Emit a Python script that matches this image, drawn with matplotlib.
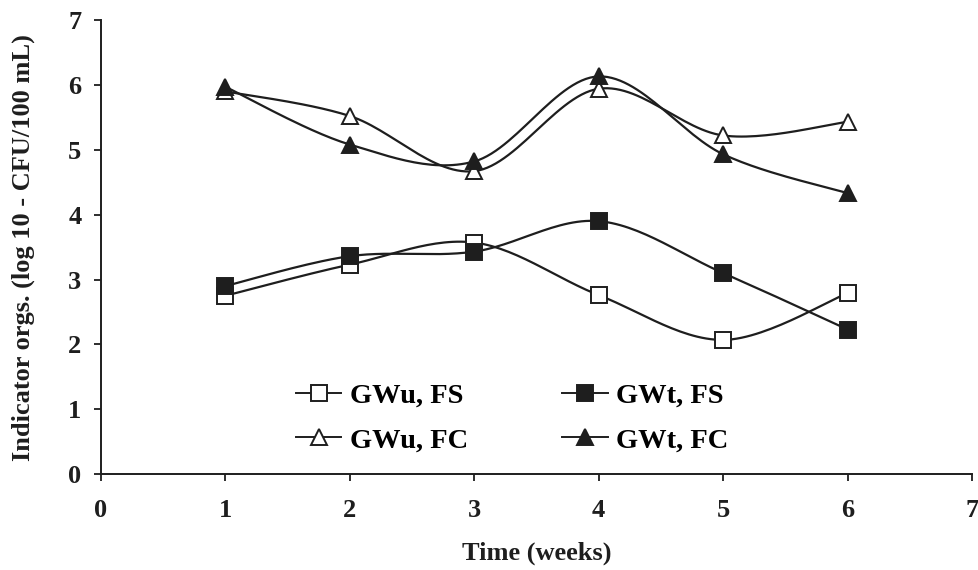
import numpy as np
import matplotlib
matplotlib.use("Agg")
import matplotlib.pyplot as plt
from matplotlib.lines import Line2D

weeks = [1, 2, 3, 4, 5, 6]
gwu_fs = [2.75, 3.23, 3.57, 2.76, 2.07, 2.79]
gwt_fs = [2.90, 3.36, 3.43, 3.90, 3.10, 2.23]
gwu_fc = [5.90, 5.52, 4.67, 5.94, 5.22, 5.43]
gwt_fc = [5.97, 5.08, 4.82, 6.13, 4.93, 4.33]

labels = ["GWu, FS", "GWt, FS", "GWu, FC", "GWt, FC"]

plt.rcParams['font.family'] = ['Liberation Serif', 'DejaVu Serif']
plt.rcParams['font.weight'] = 'bold'


def smooth(x, y, n=30):
    x = np.asarray(x, float)
    y = np.asarray(y, float)
    px = np.concatenate([[x[0]], x, [x[-1]]])
    py = np.concatenate([[y[0]], y, [y[-1]]])
    xs, ys = [], []
    for i in range(1, len(px) - 2):
        p0 = np.array([px[i - 1], py[i - 1]])
        p1 = np.array([px[i], py[i]])
        p2 = np.array([px[i + 1], py[i + 1]])
        p3 = np.array([px[i + 2], py[i + 2]])
        c1 = p1 + (p2 - p0) / 6.0
        c2 = p2 - (p3 - p1) / 6.0
        t = np.linspace(0, 1, n)[:, None]
        pts = ((1 - t) ** 3) * p1 + 3 * ((1 - t) ** 2) * t * c1 + 3 * (1 - t) * t ** 2 * c2 + t ** 3 * p2
        xs.extend(pts[:, 0])
        ys.extend(pts[:, 1])
    return np.array(xs), np.array(ys)


fig = plt.figure(figsize=(9.79, 5.70), dpi=100)
ax = fig.add_axes([0.103, 0.168, 0.890, 0.797])

lc = '#1e1e1e'
series = [
    (gwu_fs, 's', 'white'),
    (gwt_fs, 's', lc),
    (gwu_fc, '^', 'white'),
    (gwt_fc, '^', lc),
]
handles = []
for (vals, mk, fc), lab in zip(series, labels):
    sx, sy = smooth(weeks, vals)
    ax.plot(sx, sy, color=lc, lw=1.6, zorder=2)
    ax.plot(weeks, vals, linestyle='none', marker=mk, markersize=11,
            markerfacecolor=fc, markeredgecolor=lc, markeredgewidth=1.4, zorder=3)
    handles.append(Line2D([0], [0], color=lc, lw=1.4, marker=mk, markersize=11,
                          markerfacecolor=fc, markeredgecolor=lc, markeredgewidth=1.4))

ax.set_xlim(0, 7)
ax.set_ylim(0, 7)
ax.set_xticks(range(0, 8))
ax.set_yticks(range(0, 8))
ax.spines['top'].set_visible(False)
ax.spines['right'].set_visible(False)
for s in ['left', 'bottom']:
    ax.spines[s].set_linewidth(1.4)
    ax.spines[s].set_color(lc)
ax.tick_params(direction='out', length=5, width=1.3, labelsize=19, colors=lc)
ax.tick_params(axis='x', pad=13)
ax.tick_params(axis='y', pad=9)
for lab in ax.get_xticklabels() + ax.get_yticklabels():
    lab.set_fontweight('bold')

ax.set_xlabel("Time (weeks)", fontsize=19, fontweight='bold', labelpad=14, color=lc)
ax.set_ylabel("Indicator orgs. (log 10 - CFU/100 mL)", fontsize=19, fontweight='bold',
              labelpad=24, color=lc)

order = [0, 2, 1, 3]
leg = fig.legend([handles[i] for i in order], [labels[i] for i in order], ncol=2,
                 loc='upper left', bbox_to_anchor=(0.276, 0.373),
                 frameon=False, handlelength=1.6, handletextpad=0.3,
                 columnspacing=3.3, labelspacing=0.65, prop={'weight': 'bold', 'size': 20.5})

fig.savefig("out.png", dpi=100)
